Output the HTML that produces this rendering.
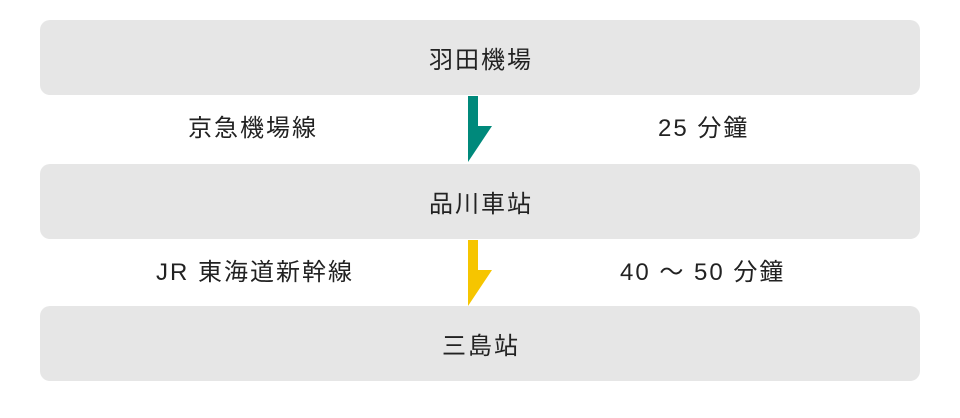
<!DOCTYPE html>
<html><head><meta charset="utf-8"><style>
body{margin:0;width:960px;height:418px;background:#fff;position:relative;font-family:"Liberation Sans","Noto Sans CJK JP",sans-serif;color:#222;overflow:hidden}
.b{position:absolute;left:40px;width:880px;height:75px;background:#e6e6e6;border-radius:10px;display:flex;align-items:center;justify-content:center;font-size:24px;letter-spacing:2px;padding-left:2px;box-sizing:border-box}
.t{position:absolute;font-size:24px;line-height:26px;letter-spacing:2px;white-space:nowrap}
svg{position:absolute;left:0;top:0}
</style></head><body>
<div class="b" style="top:20px">羽田機場</div>
<div class="b" style="top:164px">品川車站</div>
<div class="b" style="top:306px">三島站</div>
<svg width="960" height="418">
<polygon points="468,96 478,96 478,126 492,126 468,162" fill="#00897b"/>
<polygon points="468,240 478,240 478,270 492,270 468,306" fill="#f6c500"/>
</svg>
<div class="t" style="left:188px;top:116px">京急機場線</div>
<div class="t" style="left:658px;top:116px">25 分鐘</div>
<div class="t" style="left:156px;top:260px">JR 東海道新幹線</div>
<div class="t" style="left:620px;top:260px">40 〜 50 分鐘</div>
</body></html>
